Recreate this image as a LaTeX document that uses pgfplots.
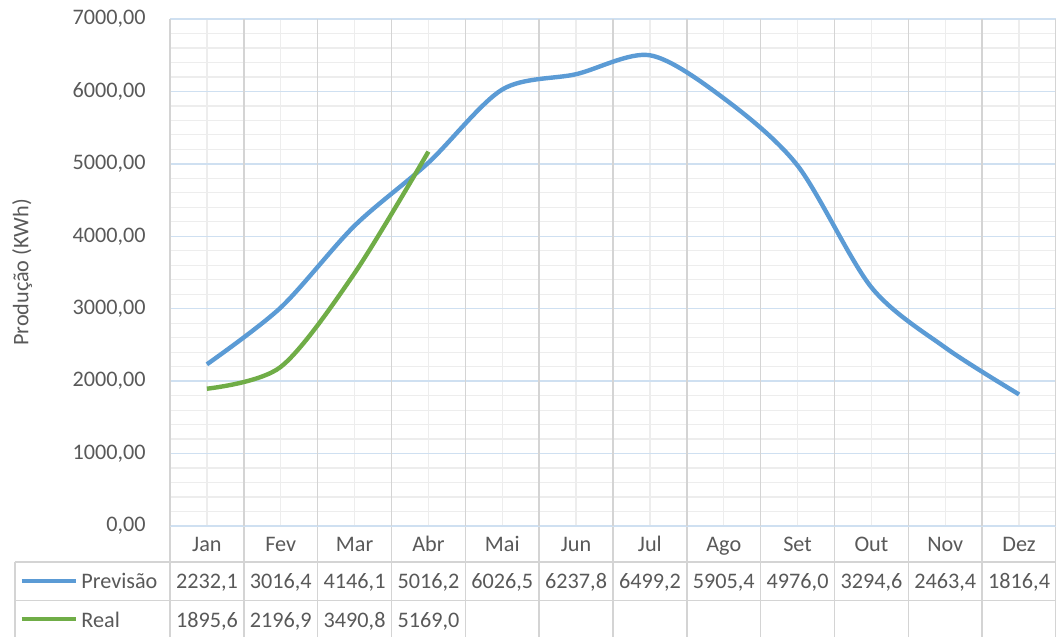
\documentclass[border=0pt]{standalone}
\usepackage{pgfplots}
\usepackage{pgfplotstable}
\pgfplotsset{compat=1.18}
\usepackage{fontspec}
\setmainfont{Carlito}

\definecolor{prevblue}{HTML}{5B9BD5}
\definecolor{realgreen}{HTML}{70AD47}
\definecolor{txtgray}{HTML}{595959}
\definecolor{majorblue}{HTML}{CFE0F1}
\definecolor{minorgray}{HTML}{EDEDED}
\definecolor{bordergray}{HTML}{D4D4D4}

\newcommand\chartfont{\fontsize{11.1}{13.3}\selectfont}

% monthly production, forecast and measured
\pgfplotstableread{
mes prev
0  2232.1
1  3016.4
2  4146.1
3  5016.2
4  6026.5
5  6237.8
6  6499.2
7  5905.4
8  4976.0
9  3294.6
10 2463.4
11 1816.4
}\previsao

\pgfplotstableread{
mes real
0 1895.6
1 2196.9
2 3490.8
3 5169.0
}\real

\pgfplotsset{/pgf/number format/assume math mode=true}

\begin{document}
\begin{tikzpicture}
\useasboundingbox (-85pt,-55.5pt) rectangle (443pt,263pt);

% data table frame below the plot area
\begin{scope}[bordergray, line width=0.8pt]
  \draw (0pt,0pt) -- (443pt,0pt);
  \draw (-77.5pt,-18.15pt) -- (443pt,-18.15pt);
  \draw (-77.5pt,-37.35pt) -- (443pt,-37.35pt);
  \draw (-77.5pt,-18.15pt) -- (-77.5pt,-55.5pt);
  \foreach \k in {0,...,12} {
    \draw ({\k*443/12*1pt},0pt) -- ({\k*443/12*1pt},-55.5pt);
  }
\end{scope}

% legend keys of the table rows
\draw[prevblue, line width=2.2pt] (-74.2pt,-27.4pt) -- (-47pt,-27.4pt);
\draw[realgreen, line width=2.2pt] (-74.2pt,-46.6pt) -- (-47pt,-46.6pt);
\node[anchor=base west, inner sep=0pt, text=txtgray, font=\chartfont] at (-44.5pt,-31.2pt) {Previsão};
\node[anchor=base west, inner sep=0pt, text=txtgray, font=\chartfont] at (-44.5pt,-50.6pt) {Real};

\begin{axis}[
  at={(0pt,0pt)}, anchor=south west,
  scale only axis,
  width=443pt, height=253.5pt,
  xmin=-0.5, xmax=11.5,
  ymin=0, ymax=7000,
  clip=false,
  axis line style={draw=none},
  major tick length=0pt, minor tick length=0pt,
  font=\chartfont,
  tick label style={text=txtgray},
  xtick={0,...,11},
  xticklabels={Jan,Fev,Mar,Abr,Mai,Jun,Jul,Ago,Set,Out,Nov,Dez},
  xticklabel style={anchor=base, inner sep=0pt, yshift=-13pt},
  xmajorgrids,
  major x grid style={minorgray, line width=0.6pt},
  extra x ticks={-0.5,0.5,1.5,2.5,3.5,4.5,5.5,6.5,7.5,8.5,9.5,10.5,11.5},
  extra x tick labels={},
  extra x tick style={grid=major, major x grid style={bordergray, line width=0.8pt}},
  ytick={0,1000,...,7000},
  minor y tick num=4,
  ymajorgrids, yminorgrids,
  major y grid style={majorblue, line width=0.7pt},
  minor y grid style={minorgray, line width=0.6pt},
  scaled y ticks=false,
  yticklabel style={anchor=east, inner sep=0pt, xshift=-12pt,
    /pgf/number format/.cd, fixed, fixed zerofill, precision=2, use comma, 1000 sep={}},
  ylabel={Produção (KWh)},
  ylabel style={at={(axis description cs:-0.167,0.5)}, anchor=center, text=txtgray},
  every node near coord/.append style={anchor=base, inner sep=0pt, text=txtgray, font=\chartfont},
]
\addplot[prevblue, line width=2.2pt, smooth, tension=0.5] table[x=mes, y=prev] {\previsao};
\addplot[realgreen, line width=2.2pt, smooth, tension=0.5] table[x=mes, y=real] {\real};

% table rows with the values
\addplot[draw=none, mark=none, point meta=\thisrow{prev},
  nodes near coords={\pgfmathprintnumber[fixed, fixed zerofill, precision=1, use comma, 1000 sep={}]{\pgfplotspointmeta}}]
  table[x=mes, y expr=-861.5] {\previsao};
\addplot[draw=none, mark=none, point meta=\thisrow{real},
  nodes near coords={\pgfmathprintnumber[fixed, fixed zerofill, precision=1, use comma, 1000 sep={}]{\pgfplotspointmeta}}]
  table[x=mes, y expr=-1397.2] {\real};
\end{axis}
\end{tikzpicture}
\end{document}
